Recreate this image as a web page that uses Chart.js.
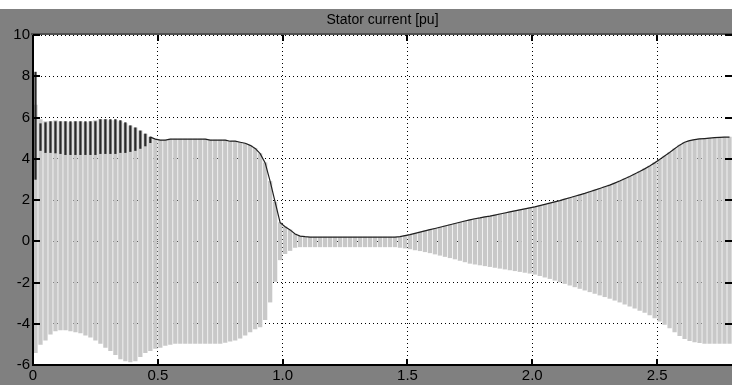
<!DOCTYPE html>
<html>
<head>
<meta charset="utf-8">
<script src="https://cdn.jsdelivr.net/npm/chart.js@4"></script>
<style>
  html, body { margin: 0; padding: 0; background: #fff; }
  canvas { display: block; }
</style>
</head>
<body>
<canvas id="scope" width="732" height="385"></canvas>
<script>
// sample times [s] (one stripe per sample)
var times = [
  0.01,0.03,0.05,0.07,0.09,0.11,0.13,0.15,0.17,0.19,
  0.21,0.23,0.25,0.27,0.29,0.31,0.33,0.35,0.37,0.39,
  0.41,0.43,0.45,0.47,0.49,0.51,0.53,0.55,0.57,0.59,
  0.61,0.63,0.65,0.67,0.69,0.71,0.73,0.75,0.77,0.79,
  0.81,0.83,0.85,0.87,0.89,0.91,0.93,0.95,0.97,0.99,
  1.01,1.03,1.05,1.07,1.09,1.11,1.13,1.15,1.17,1.19,
  1.21,1.23,1.25,1.27,1.29,1.31,1.33,1.35,1.37,1.39,
  1.41,1.43,1.45,1.47,1.49,1.51,1.53,1.55,1.57,1.59,
  1.61,1.63,1.65,1.67,1.69,1.71,1.73,1.75,1.77,1.79,
  1.81,1.83,1.85,1.87,1.89,1.91,1.93,1.95,1.97,1.99,
  2.01,2.03,2.05,2.07,2.09,2.11,2.13,2.15,2.17,2.19,
  2.21,2.23,2.25,2.27,2.29,2.31,2.33,2.35,2.37,2.39,
  2.41,2.43,2.45,2.47,2.49,2.51,2.53,2.55,2.57,2.59,
  2.61,2.63,2.65,2.67,2.69,2.71,2.73,2.75,2.77,2.79
];

// upper peak of the three phase currents [pu]
var upper = [
  6.6,5.9,5.8,5.8,5.85,5.8,5.8,5.75,5.8,5.8,
  5.75,5.8,5.85,5.9,5.9,5.85,5.85,5.8,5.7,5.6,
  5.5,5.35,5.2,5.05,4.95,4.9,4.9,4.95,4.95,4.95,
  4.95,4.95,4.95,4.95,4.95,4.9,4.9,4.9,4.9,4.85,
  4.85,4.8,4.75,4.65,4.5,4.25,3.8,2.9,1.9,0.9,
  0.7,0.55,0.35,0.25,0.22,0.2,0.2,0.2,0.2,0.2,
  0.2,0.2,0.2,0.2,0.2,0.2,0.2,0.2,0.2,0.2,
  0.2,0.2,0.2,0.22,0.27,0.32,0.38,0.44,0.5,0.56,
  0.62,0.68,0.74,0.8,0.86,0.92,0.98,1.04,1.09,1.13,
  1.18,1.22,1.27,1.32,1.37,1.42,1.47,1.52,1.57,1.62,
  1.67,1.73,1.79,1.85,1.91,1.97,2.04,2.11,2.18,2.25,
  2.32,2.4,2.48,2.56,2.64,2.72,2.82,2.92,3.03,3.14,
  3.26,3.38,3.51,3.65,3.8,3.96,4.13,4.3,4.48,4.66,
  4.8,4.88,4.93,4.96,4.98,5.0,5.02,5.04,5.05,5.05
];

// lower peak of the three phase currents [pu]
var lower = [
  -5.4,-5.0,-4.8,-4.5,-4.35,-4.3,-4.3,-4.35,-4.4,-4.45,
  -4.55,-4.65,-4.8,-4.95,-5.15,-5.3,-5.5,-5.7,-5.8,-5.85,
  -5.8,-5.6,-5.4,-5.3,-5.2,-5.15,-5.05,-5.0,-4.95,-4.95,
  -4.95,-4.95,-4.95,-4.95,-4.95,-4.95,-4.95,-4.95,-4.9,-4.85,
  -4.8,-4.7,-4.55,-4.4,-4.25,-4.15,-3.8,-2.95,-1.95,-0.9,
  -0.6,-0.45,-0.3,-0.27,-0.27,-0.27,-0.27,-0.27,-0.27,-0.27,
  -0.27,-0.27,-0.27,-0.27,-0.27,-0.27,-0.27,-0.27,-0.27,-0.27,
  -0.27,-0.27,-0.27,-0.3,-0.33,-0.37,-0.42,-0.46,-0.51,-0.56,
  -0.62,-0.68,-0.74,-0.8,-0.86,-0.93,-1.0,-1.07,-1.11,-1.15,
  -1.19,-1.23,-1.27,-1.31,-1.35,-1.39,-1.43,-1.47,-1.51,-1.55,
  -1.6,-1.67,-1.74,-1.81,-1.89,-1.97,-2.05,-2.13,-2.21,-2.29,
  -2.37,-2.45,-2.53,-2.61,-2.69,-2.77,-2.86,-2.95,-3.05,-3.15,
  -3.25,-3.35,-3.45,-3.57,-3.72,-3.87,-4.03,-4.2,-4.4,-4.58,
  -4.72,-4.82,-4.88,-4.92,-4.95,-4.95,-4.95,-4.95,-4.95,-4.95
];

// current magnitude while it still oscillates (first 24 samples)
var magHigh = [8.2,5.7,5.75,5.8,5.8,5.8,5.8,5.8,5.8,5.8,5.8,5.8,5.8,5.9,5.9,5.9,5.9,5.85,5.75,5.6,5.5,5.35,5.2,5.05];
var magLow  = [3.0,4.4,4.3,4.3,4.28,4.25,4.2,4.2,4.2,4.2,4.2,4.2,4.2,4.25,4.25,4.25,4.25,4.3,4.3,4.35,4.4,4.5,4.62,4.78];

var xTicks = [0, 0.5, 1, 1.5, 2, 2.5];
var yTicks = [-6, -4, -2, 0, 2, 4, 6, 8, 10];

var FRAME = '#808080';
var FONT = 'Liberation Sans, Arial, sans-serif';

var bands = [];
for (var i = 0; i < times.length; i++) {
    bands.push({ x: times[i], y: [lower[i], upper[i]] });
}
var magBands = [];
for (var i = 0; i < magHigh.length; i++) {
    magBands.push({ x: times[i], y: [magLow[i], magHigh[i]] });
}
var magLine = [];
for (var i = magHigh.length - 1; i < times.length; i++) {
    magLine.push({ x: times[i], y: upper[i] });
}

// grey frame, white plot area
var framePlugin = {
    id: 'frame',
    beforeDraw: function (chart) {
        var c = chart.ctx, a = chart.chartArea;
        c.save();
        c.fillStyle = '#fff';
        c.fillRect(0, 0, chart.width, chart.height);
        c.fillStyle = FRAME;
        c.fillRect(0, 9, chart.width, chart.height - 9);
        c.fillStyle = '#fff';
        c.fillRect(a.left, a.top, a.right - a.left, a.bottom - a.top);
        c.strokeStyle = '#505050';
        c.lineWidth = 2;
        c.beginPath();
        c.moveTo(a.left - 2, a.top - 1);
        c.lineTo(a.right, a.top - 1);
        c.stroke();
        c.restore();
    },
    afterDraw: function (chart) {
        var c = chart.ctx, a = chart.chartArea;
        var xs = chart.scales.x, ys = chart.scales.y;
        c.save();
        c.strokeStyle = '#000';
        c.lineWidth = 2;
        c.beginPath();
        // axis lines
        c.moveTo(a.left, a.top);
        c.lineTo(a.left, a.bottom);
        c.lineTo(a.right, a.bottom);
        // inward tick marks
        xTicks.forEach(function (v) {
            var px = Math.round(xs.getPixelForValue(v));
            c.moveTo(px, a.top); c.lineTo(px, a.top + 6);
            c.moveTo(px, a.bottom); c.lineTo(px, a.bottom - 6);
        });
        yTicks.forEach(function (v) {
            var py = Math.round(ys.getPixelForValue(v));
            c.moveTo(a.left, py); c.lineTo(a.left + 7, py);
            c.moveTo(a.right, py); c.lineTo(a.right - 7, py);
        });
        c.stroke();
        c.restore();
    }
};

var ctx = document.getElementById('scope');
var scope = new Chart(ctx, {
    type: 'bar',
    data: {
        datasets: [
            {
                type: 'line',
                label: 'magnitude',
                data: magLine,
                borderColor: '#202020',
                borderWidth: 1.2,
                pointRadius: 0,
                tension: 0,
                order: 0
            },
            {
                label: 'magnitude (oscillating)',
                data: magBands,
                backgroundColor: '#2a2a2a',
                barThickness: 1.6,
                grouped: false,
                order: 1
            },
            {
                label: 'phase currents',
                data: bands,
                backgroundColor: '#c8c8c8',
                barThickness: 3.6,
                grouped: false,
                order: 2
            }
        ]
    },
    options: {
        responsive: false,
        animation: false,
        devicePixelRatio: 1,
        layout: { padding: 0 },
        plugins: {
            legend: { display: false },
            tooltip: { enabled: false },
            title: {
                display: true,
                text: 'Stator current [pu]',
                fullSize: false,
                color: '#000',
                font: { family: FONT, size: 14, weight: 'normal', lineHeight: 1 },
                padding: { top: 13, bottom: 8 }
            }
        },
        scales: {
            x: {
                type: 'linear',
                min: 0,
                max: 2.8,
                offset: false,
                z: 1,
                afterBuildTicks: function (s) { s.ticks = xTicks.map(function (v) { return { value: v }; }); },
                afterFit: function (s) { s.height = 20; },
                grid: { offset: false, color: '#000', lineWidth: 1, drawTicks: false, borderDash: [1, 3] },
                border: { display: false, dash: [1, 3] },
                ticks: { color: '#000', padding: 2, maxRotation: 0, font: { family: FONT, size: 15 } }
            },
            y: {
                min: -6,
                max: 10,
                z: 1,
                afterBuildTicks: function (s) { s.ticks = yTicks.map(function (v) { return { value: v }; }); },
                afterFit: function (s) { s.width = 33; },
                grid: { color: '#000', lineWidth: 1, drawTicks: false, borderDash: [1, 3] },
                border: { display: false, dash: [1, 3] },
                ticks: { color: '#000', padding: 3, font: { family: FONT, size: 15 } }
            }
        }
    },
    plugins: [framePlugin]
});
</script>
</body>
</html>
